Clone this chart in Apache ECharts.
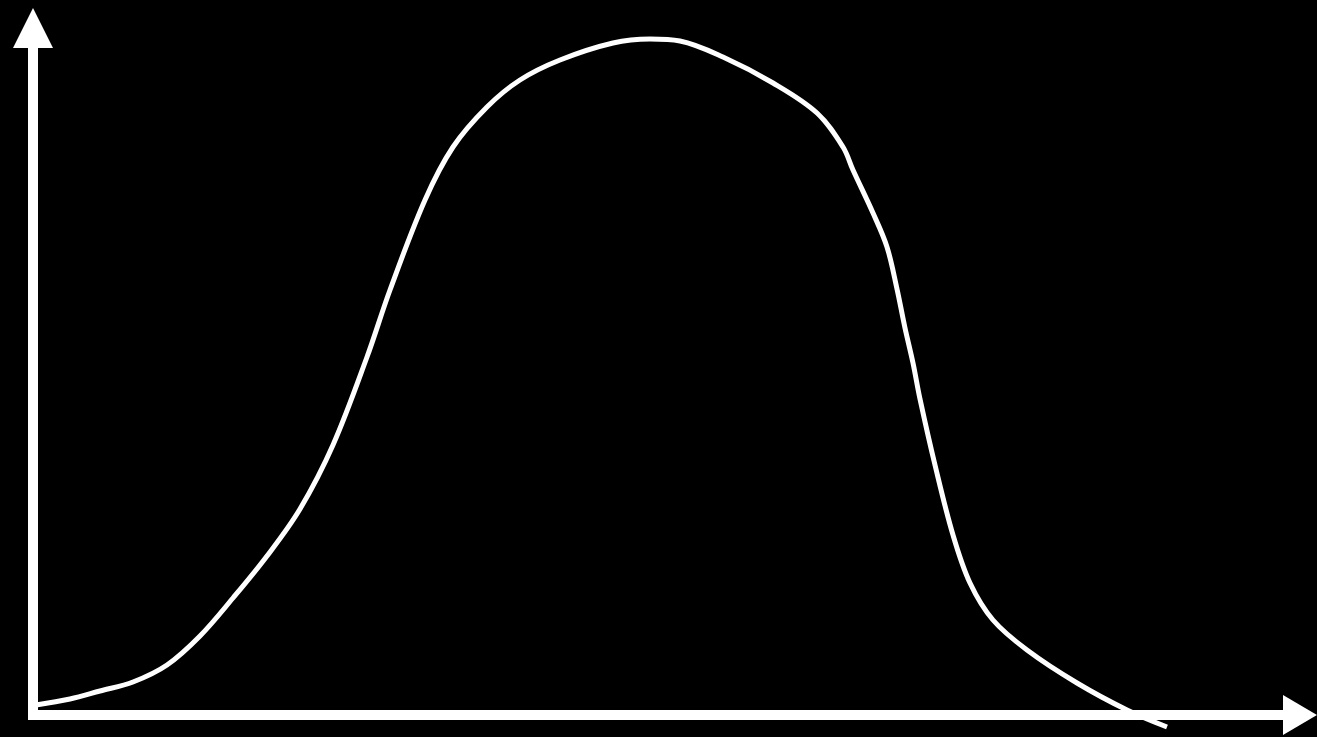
<!DOCTYPE html>
<html>
<head>
<meta charset="utf-8">
<script src="https://cdn.jsdelivr.net/npm/echarts@6/dist/echarts.min.js"></script>
<style>
html,body{margin:0;padding:0;background:#000;}
#c{width:1317px;height:737px;}
</style>
</head>
<body>
<div id="c"></div>
<script>
// curve samples (x position, height above the x axis)
const curveX = [36, 70, 100, 133, 167, 200, 233, 267, 300, 333, 367, 390, 425, 453, 487, 520, 560, 613, 650, 680, 723, 773, 817, 843, 853, 873, 887, 897, 905, 913, 920, 935, 953, 970, 993, 1027, 1077, 1127, 1167];
const curveY = [10, 16, 24, 33, 50, 79, 117, 159, 206, 270, 358, 425, 515, 568, 608, 635, 655, 672, 676, 674, 658, 632, 602, 568, 545, 502, 468, 426, 387, 352, 316, 250, 180, 132, 95, 65, 32, 5, -12];
const xRange = [33, 1300];
const yRange = [0, 687];

const data = curveX.map((x, i) => [x, curveY[i]]);

const chart = echarts.init(document.getElementById('c'));
chart.setOption({
  backgroundColor: '#000',
  animation: false,
  grid: { left: 33, right: 17, top: 28, bottom: 22, containLabel: false },
  xAxis: {
    type: 'value', min: xRange[0], max: xRange[1],
    axisLine: { show: true, onZero: false, symbol: ['none', 'triangle'], symbolSize: [40, 34],
      lineStyle: { color: '#fff', width: 10, cap: 'square' } },
    axisTick: { show: false }, axisLabel: { show: false }, splitLine: { show: false }
  },
  yAxis: {
    type: 'value', min: yRange[0], max: yRange[1],
    axisLine: { show: true, onZero: false, symbol: ['none', 'triangle'], symbolSize: [40, 40],
      lineStyle: { color: '#fff', width: 10, cap: 'square' } },
    axisTick: { show: false }, axisLabel: { show: false }, splitLine: { show: false }
  },
  series: [{
    type: 'line', data: data, smooth: 0.35, showSymbol: false, clip: false,
    lineStyle: { color: '#fff', width: 5 }
  }]
});
</script>
</body>
</html>
